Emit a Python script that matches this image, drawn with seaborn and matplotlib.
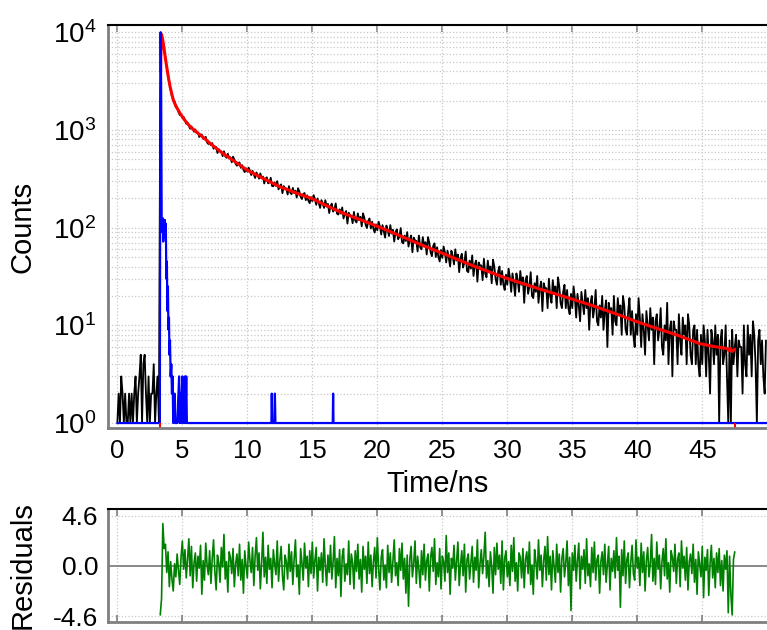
import matplotlib
matplotlib.use("Agg")
import matplotlib.pyplot as plt
import matplotlib.ticker as mticker
import numpy as np
import seaborn as sns

# measured decay, one value per 0.1 ns channel starting at 0 ns
decay_start = 0.0
decay_step = 0.1
decay_counts = [
    1, 2, 1, 3, 2, 1, 2, 1, 1, 2,
    1, 2, 1, 2, 3, 1, 2, 3, 5, 1,
    4, 5, 2, 1, 3, 1, 2, 2, 4, 1,
    2, 3, 1, 2600, 9100, 7800, 6550, 5320, 4380, 3640,
    3055, 2564, 2194, 2047, 1957, 1708, 1683, 1525, 1423, 1439,
    1330, 1360, 1260, 1155, 1191, 1107, 1027, 1085, 1026, 959,
    1010, 931, 941, 846, 892, 895, 814, 809, 848, 744,
    718, 744, 696, 734, 642, 663, 670, 580, 635, 607,
    600, 539, 605, 538, 519, 569, 516, 525, 466, 533,
    497, 450, 430, 458, 465, 409, 436, 392, 370, 405,
    374, 411, 382, 345, 381, 350, 322, 367, 344, 317,
    359, 320, 333, 283, 317, 327, 284, 291, 324, 267,
    265, 290, 267, 299, 246, 267, 277, 225, 266, 254,
    251, 218, 266, 228, 220, 255, 226, 239, 203, 253,
    235, 207, 196, 220, 226, 191, 214, 188, 178, 205,
    187, 215, 196, 171, 199, 177, 159, 191, 177, 159,
    191, 164, 175, 141, 167, 176, 146, 154, 177, 139,
    136, 154, 139, 161, 124, 140, 148, 110, 142, 134,
    132, 111, 145, 118, 113, 140, 119, 129, 103, 140,
    126, 107, 99, 117, 124, 98, 115, 97, 89, 108,
    94, 115, 103, 85, 106, 92, 79, 105, 95, 82,
    106, 87, 95, 72, 90, 96, 76, 81, 99, 71,
    69, 83, 73, 90, 64, 76, 83, 56, 79, 74,
    73, 57, 83, 63, 60, 80, 64, 71, 53, 80,
    70, 56, 51, 65, 69, 50, 63, 50, 45, 59,
    49, 64, 56, 44, 58, 49, 40, 58, 51, 42,
    60, 46, 53, 35, 49, 54, 39, 44, 57, 36,
    35, 46, 38, 52, 32, 42, 46, 28, 44, 41,
    41, 29, 48, 34, 31, 46, 35, 40, 27, 47,
    40, 30, 26, 36, 40, 26, 36, 26, 23, 33,
    26, 38, 31, 22, 34, 27, 20, 34, 29, 22,
    36, 26, 31, 17, 29, 32, 21, 25, 35, 20,
    19, 27, 22, 32, 17, 24, 28, 14, 27, 24,
    24, 15, 30, 20, 17, 29, 21, 25, 15, 31,
    25, 17, 15, 22, 26, 15, 23, 15, 13, 21,
    15, 25, 19, 12, 21, 16, 11, 22, 17, 13,
    23, 15, 19, 9, 17, 20, 12, 15, 23, 11,
    10, 16, 12, 20, 9, 14, 18, 6, 17, 14,
    15, 8, 20, 11, 10, 19, 13, 16, 8, 20,
    16, 9, 8, 14, 19, 8, 14, 8, 6, 13,
    8, 19, 12, 6, 13, 9, 5, 14, 10, 7,
    15, 9, 12, 4, 11, 13, 7, 9, 15, 6,
    5, 10, 7, 17, 4, 9, 11, 3, 11, 9,
    9, 4, 13, 7, 5, 12, 8, 10, 4, 13,
    10, 5, 4, 9, 10, 4, 9, 4, 3, 8,
    4, 10, 7, 3, 9, 5, 2, 9, 7, 4,
    10, 5, 8, 1, 7, 9, 4, 5, 10, 3,
    1, 7, 1, 9, 4, 6, 8, 3, 7, 6,
    6, 2, 10, 4, 3, 10, 5, 8, 3, 11,
    8, 4, 1, 7, 9, 4, 7, 3, 2, 7,
]

# instrument response function
irf_time = [0.0, 3.20, 3.27, 3.30, 3.33, 3.37, 3.41, 3.45, 3.49, 3.53,
            3.57, 3.61, 3.65, 3.69, 3.73, 3.77, 3.81, 3.85, 3.89, 3.93,
            3.97, 4.01, 4.05, 4.10, 4.15, 4.20, 4.25, 4.30, 4.40, 4.45,
            4.60, 4.70, 4.75, 4.80, 4.85, 4.90, 4.95, 5.00, 5.05, 5.10,
            5.15, 5.20, 5.25, 5.30, 5.35, 11.85, 11.88, 11.92, 12.09, 12.12,
            12.16, 16.57, 16.60, 16.63, 50.0]
irf_counts = [1, 1, 1, 800, 10000, 2500, 120, 90, 125, 72,
              115, 80, 120, 85, 110, 30, 45, 14, 25, 9,
              12, 5, 7, 3, 4, 2, 3, 1, 2, 1,
              1, 2, 3, 1, 2, 1, 2, 3, 1, 2,
              1, 3, 1, 3, 1, 1, 2, 1, 1, 2,
              1, 1, 2, 1, 1]

# fitted decay
fit_time = [3.33, 3.36, 3.40, 3.47, 3.55, 3.65, 3.80, 3.95, 4.05, 4.20,
            4.31, 4.50, 4.82, 5.2, 5.6, 6.1, 6.6, 7.13, 8.0, 9.0,
            9.95, 11.0, 12.5, 14.0, 14.95, 16.0, 17.4, 19.4, 21.0, 23.0,
            24.95, 27.5, 29.95, 32.5, 34.8, 36.5, 38.65, 39.95, 41.5, 43.0,
            44.8, 45.8, 46.5, 46.9, 47.05, 47.15, 47.3, 47.5]
fit_counts = [4000, 8500, 9500, 8600, 7500, 6000, 4400, 3300, 2800, 2300,
              2020, 1760, 1480, 1250, 1080, 950, 840, 730, 590, 478,
              390, 330, 262, 220, 199, 170, 140, 111, 91, 70,
              55, 40, 30.3, 23.5, 18.9, 16.0, 12.7, 10.9, 9.3, 8.0,
              6.5, 6.1, 5.9, 5.8, 5.5, 5.8, 5.4, 5.7]
fit_range = [3.3, 47.5]

# weighted residuals, 0.1 ns per channel over the fit range
resid_start = 3.3
resid_step = 0.1
residuals = [
    -4.5, -3.0, 3.9, 1.6, 2.0, -0.6, 1.3, -1.9, 0.4, -1.2,
    -2.3, 0.2, -1.0, 1.1, -0.4, -1.7, 0.8, 2.3, -0.3, 1.5,
    -1.1, 0.6, 2.5, -0.9, 1.8, -2.0, 0.3, 1.2, -1.4, 0.9,
    -0.2, 1.9, -2.6, 0.5, -1.3, 2.1, 0.1, -0.8, 1.4, -1.6,
    0.7, 2.4, -0.5, -2.2, 1.0, 0.3, -1.5, 1.7, -0.1, 2.9,
    -1.2, 0.4, -2.4, 1.3, 0.8, -0.7, 1.6, -1.9, 0.2, 1.1,
    -0.9, 2.0, -1.3, 0.6, -2.5, 1.4, 0.0, -1.1, 2.2, 0.5,
    -0.6, 1.7, -1.8, 0.9, 2.6, -0.4, 1.2, -2.1, 0.3, 3.1,
    -1.0, 0.8, -1.6, 1.9, -0.3, 0.7, -2.0, 1.5, 0.2, -0.8,
    2.3, -1.4, 0.5, 1.8, -0.9, -2.2, 1.0, 0.4, -1.2, 2.0,
    -0.5, 1.3, -1.7, 0.6, 2.4, -1.0, 0.1, -2.6, 1.6, 0.3,
    -1.3, 2.1, -0.2, 0.9, -1.9, 1.4, -0.7, 2.2, -1.1, 0.5,
    1.7, -2.3, 0.8, -0.4, 1.2, -1.5, 2.5, 0.0, -1.8, 1.0,
    -0.6, 1.9, -1.2, 0.4, 2.7, -2.0, 0.7, -0.9, 1.5, -2.8,
    0.9, 1.6, -1.4, 0.2, -0.8, 2.3, -1.7, 1.1, 0.3, -2.1,
    1.4, -0.5, 2.0, -1.2, 0.6, -2.4, 1.8, -0.3, 0.9, -1.6,
    2.2, -0.7, 1.0, -1.9, 0.4, 1.7, -1.1, 2.6, -0.2, -2.2,
    0.8, 1.5, -1.3, 0.1, -2.0, 1.9, -0.6, 1.2, -1.5, 0.5,
    2.4, -0.9, 0.3, -1.8, 1.6, -0.4, 2.1, -1.2, 0.7, -2.5,
    1.0, -3.7, 0.6, 1.8, -1.0, 0.2, 2.3, -1.6, 0.9, -0.3,
    -2.0, 1.4, -0.8, 2.0, -1.3, 0.5, 1.1, -2.3, 0.8, 1.7,
    -0.5, 2.5, -1.7, 0.3, -1.0, 1.6, -2.1, 0.9, 0.4, -1.4,
    2.8, -0.6, 1.2, -2.6, 0.7, -0.2, 1.9, -1.3, 0.5, 2.2,
    -1.8, 0.1, 1.4, -0.9, 2.0, -2.4, 0.6, 1.1, -1.2, 0.3,
    1.8, -1.5, 0.8, -0.4, 2.4, -2.0, 0.2, 1.5, -0.7, 0.9,
    3.1, -1.1, 0.5, -1.9, 1.3, 0.0, -2.5, 1.7, -0.8, 2.1,
    -0.3, 1.0, -1.6, 2.3, -2.2, 0.7, 1.4, -1.0, 0.4, -1.8,
    1.9, -0.5, 2.6, -1.4, 0.3, -2.3, 1.2, 0.8, -1.1, 1.6,
    -2.0, 0.6, 1.3, -0.7, 2.2, -1.7, 0.1, -2.6, 1.5, 0.4,
    -1.2, 2.4, -0.4, 1.0, -1.9, 0.5, 1.8, -1.3, 2.7, -0.8,
    0.9, -2.2, 1.4, -0.1, -1.5, 2.0, -0.6, 1.1, -2.4, 0.7,
    1.6, -1.0, 0.3, 2.3, -1.8, 0.8, -4.1, 1.2, -0.4, 1.9,
    -1.4, 0.5, 2.1, -2.1, 0.9, -0.3, 1.5, -1.6, 2.5, -0.9,
    0.2, -1.9, 1.7, -0.6, 2.2, -1.3, 0.6, 1.0, -2.5, 0.4,
    1.3, -0.8, 2.0, -1.5, 0.1, 1.8, -2.2, 0.7, -0.5, 1.4,
    -1.1, 2.6, -0.4, 0.9, -3.8, 1.5, -0.9, 2.3, -1.6, 0.6,
    1.2, -2.0, 0.3, 1.9, -0.7, -1.3, 2.4, -0.2, 0.8, -1.8,
    2.1, -0.6, 1.3, -2.3, 0.5, 1.7, -1.0, 0.2, 2.9, -1.4,
    0.7, -1.7, 2.2, -0.3, 1.0, -2.1, 0.4, 1.6, -0.9, 2.5,
    -1.2, 0.3, -2.4, 1.4, 0.8, -0.5, 2.0, -1.6, 0.6, 1.2,
    -1.9, 2.3, -0.2, 0.9, -1.3, 1.7, -2.2, 0.4, 1.1, -0.7,
    2.0, -1.5, 0.6, -2.6, 1.3, 0.1, -1.0, 1.8, -2.9, 0.8,
    -0.4, 1.5, -2.7, 0.2, 1.9, -1.1, 0.7, -2.0, 1.2, -0.6,
    1.6, -1.8, 0.5, -2.3, 1.0, -0.3, 1.4, -4.3, 0.9, -2.6,
    -4.5, 0.6, 1.3,
]

x_ticks = [0, 5, 10, 15, 20, 25, 30, 35, 40, 45]
resid_ticks = [-4.6, 0.0, 4.6]
resid_tick_labels = ["-4.6", "0.0", "4.6"]

sns.set_style("white")
plt.rcParams["font.family"] = ["Liberation Sans", "DejaVu Sans"]
plt.rcParams["mathtext.fontset"] = "custom"
plt.rcParams["mathtext.rm"] = "Liberation Sans"
plt.rcParams["mathtext.it"] = "Liberation Sans"
plt.rcParams["text.color"] = "black"
plt.rcParams["axes.labelcolor"] = "black"

decay_time = decay_start + decay_step * np.arange(len(decay_counts))
resid_time = resid_start + resid_step * np.arange(len(residuals))

spine_grey = "#7f7f7f"
grid_kw = dict(color="#c8c8c8", linestyle=":", linewidth=0.9)

fig = plt.figure(figsize=(7.67, 6.30), dpi=100)
ax = fig.add_axes([0.1408, 0.3206, 0.8592, 0.6397])
axr = fig.add_axes([0.1408, 0.0127, 0.8592, 0.1794])

# ---- decay panel ----
ax.set_yscale("log")
sns.lineplot(x=decay_time, y=decay_counts, ax=ax, color="black", lw=1.3,
             estimator=None, sort=False)
sns.lineplot(x=fit_time, y=fit_counts, ax=ax, color="#ff0000", lw=2.2,
             estimator=None, sort=False)
sns.lineplot(x=irf_time, y=irf_counts, ax=ax, color="#0000ff", lw=1.6,
             estimator=None, sort=False)
ax.plot(fit_range, [0.006] * len(fit_range), transform=ax.get_xaxis_transform(),
        ls="none", marker="|", ms=5, mew=1.5, color="#ff0000", clip_on=False)

ax.set_xlim(-0.72, 49.98)
ax.set_ylim(0.889, 11850)
ax.set_xticks(x_ticks)
ax.yaxis.set_major_locator(mticker.LogLocator(base=10))
ax.yaxis.set_minor_locator(mticker.LogLocator(base=10, subs=np.arange(2, 10)))
ax.yaxis.set_minor_formatter(mticker.NullFormatter())
ax.grid(True, which="major", axis="both", **grid_kw)
ax.grid(True, which="minor", axis="y", **grid_kw)
ax.set_axisbelow(True)

ax.tick_params(axis="x", which="major", direction="out", length=4, width=1.2,
               color=spine_grey, labelcolor="black", labelsize=18.5, pad=4)
ax.tick_params(axis="y", which="major", direction="inout", length=9, width=1.2,
               color=spine_grey, labelcolor="black", labelsize=20, pad=4)
ax.tick_params(axis="y", which="minor", direction="inout", length=5, width=1.0,
               color=spine_grey)
top = ax.secondary_xaxis("top")
top.set_xticks(x_ticks)
top.tick_params(direction="in", length=5, width=1.2, color=spine_grey, labeltop=False)
top.spines["top"].set_visible(False)

ax.spines["top"].set_color("black")
ax.spines["top"].set_linewidth(1.5)
ax.spines["right"].set_visible(False)
for side in ["left", "bottom"]:
    ax.spines[side].set_color(spine_grey)
    ax.spines[side].set_linewidth(2)

ax.set_xlabel("Time/ns", fontsize=21, labelpad=5)
ax.set_ylabel("Counts", fontsize=21)
ax.yaxis.set_label_coords(-0.108, 0.5)

# ---- residual panel ----
axr.axhline(0, color="#808080", lw=1.3, zorder=1)
sns.lineplot(x=resid_time, y=residuals, ax=axr, color="#008000", lw=1.2,
             estimator=None, sort=False)
axr.set_xlim(-0.72, 49.98)
axr.set_ylim(-5.15, 5.24)
axr.set_xticks(x_ticks)
axr.set_xticklabels([])
axr.set_yticks(resid_ticks)
axr.set_yticklabels(resid_tick_labels)
axr.grid(True, axis="x", **grid_kw)
for yv in [resid_ticks[0], resid_ticks[-1]]:
    axr.axhline(yv, zorder=0, **grid_kw)
axr.set_axisbelow(True)
axr.tick_params(axis="x", direction="in", length=5, width=1.2, color=spine_grey,
                top=True, bottom=True)
axr.tick_params(axis="y", direction="inout", length=8, width=1.2, color=spine_grey,
                labelcolor="black", labelsize=19, pad=3)
axr.spines["top"].set_color("black")
axr.spines["top"].set_linewidth(1.5)
axr.spines["right"].set_visible(False)
for side in ["left", "bottom"]:
    axr.spines[side].set_color(spine_grey)
    axr.spines[side].set_linewidth(2)
axr.set_xlabel("")
axr.set_ylabel("Residuals", fontsize=21)
axr.yaxis.set_label_coords(-0.108, 0.5)

fig.savefig("out.png", dpi=100)
